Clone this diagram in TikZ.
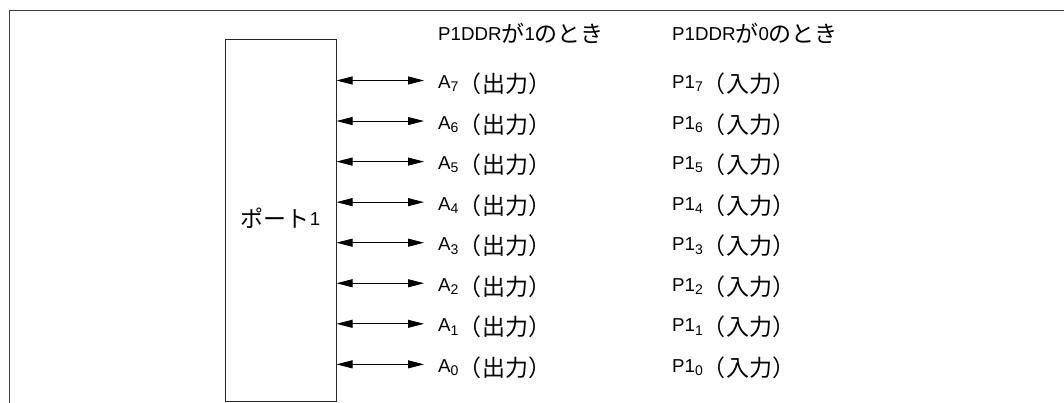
\documentclass[tikz,border=0pt]{standalone}
\usepackage{fontspec}
\setmainfont{Liberation Sans}
\newfontfamily\jp{Noto Sans CJK JP}
\usetikzlibrary{arrows.meta}
\newcommand{\sbs}[1]{\raisebox{-3.4pt}{\fontsize{14}{14}\selectfont #1}}
\newcommand{\cj}[2][4pt]{\raisebox{-#1}{\jp\fontsize{23}{23}\selectfont #2}}
\newcommand{\paren}[1]{\cj{（}\hspace{1pt}\cj{#1}\hspace{0pt}\cj{）}}
\tikzset{
  frame/.style={draw=black!75, line width=1pt},
  portbox/.style={draw=black!85, line width=1pt, minimum width=111pt, minimum height=361pt, inner sep=0pt, font=\fontsize{18.7}{20}\selectfont},
  biarrow/.style={line width=0.9pt, {Triangle[length=16pt,width=8pt]}-{Triangle[length=16pt,width=8pt]}},
  lbl/.style={anchor=base west, inner sep=0pt, font=\fontsize{18.7}{20}\selectfont}
}
\begin{document}
\begin{tikzpicture}[x=1pt,y=-1pt]
\useasboundingbox (0,0) rectangle (1064,403);
\coordinate (fl) at (9.5,403);
\coordinate (ftl) at (9.5,10.5);
\coordinate (ftr) at (1064,10.5);
\draw[frame] (fl) -- (ftl) -- (ftr);
\node[portbox] (port) at (280.5,220.5) {\raisebox{7pt}{\cj[2pt]{ポート}1}};
\node[lbl] (h1) at (438,40.7) {P1DDR\cj[2pt]{が}1\cj[2pt]{のとき}};
\node[lbl] (h2) at (672,40.7) {P1DDR\cj[2pt]{が}0\cj[2pt]{のとき}};
\foreach \k in {0,...,7}{
  \pgfmathsetmacro{\yy}{80.5+(7-\k)*40.55}
  \coordinate (e\k) at (424,\yy);
  \draw[biarrow] (port.east |- e\k) -- (e\k);
  \node[lbl] (a\k) at (438,\yy+8) {A\sbs{\k}\paren{出力}};
  \node[lbl] (p\k) at (672,\yy+8) {P1\sbs{\k}\paren{入力}};
}
\end{tikzpicture}
\end{document}
